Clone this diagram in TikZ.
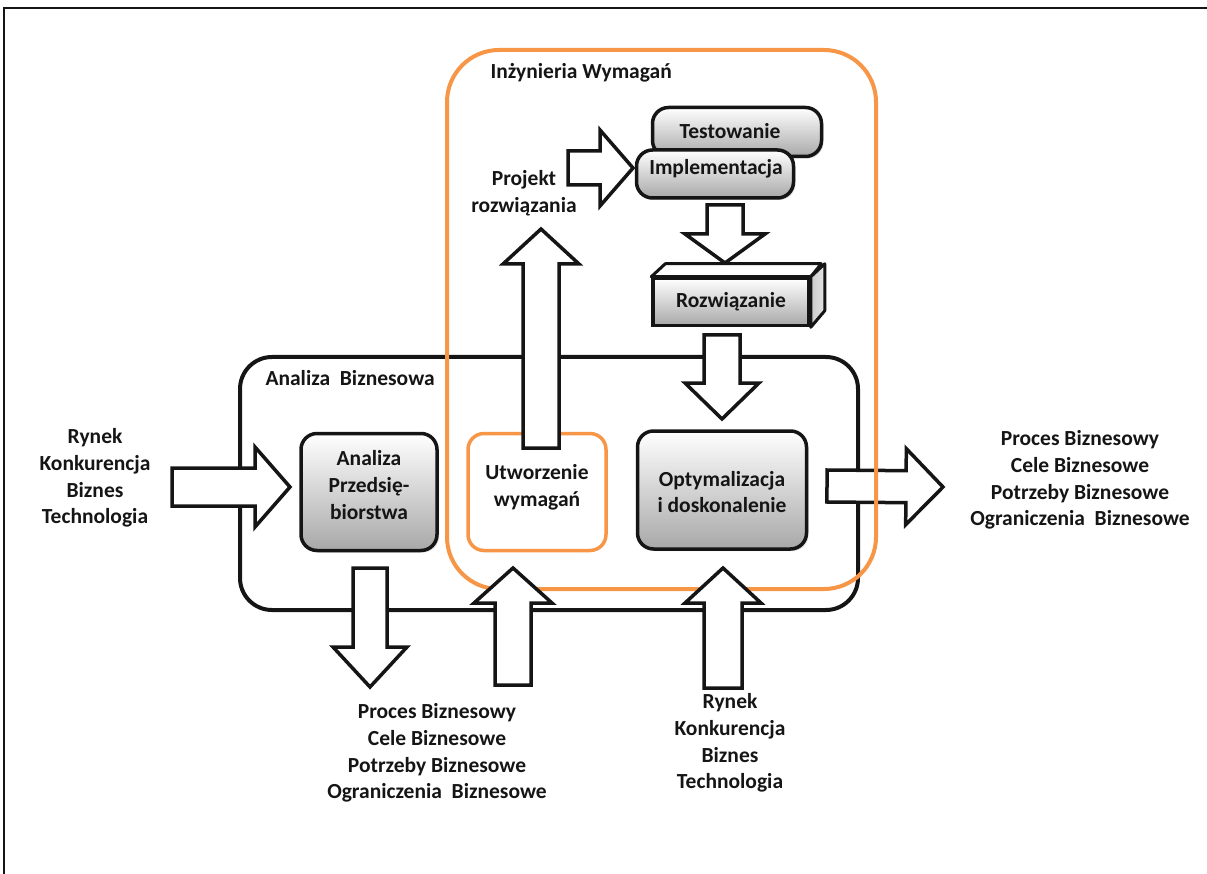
\documentclass[tikz,border=0pt]{standalone}
\usepackage{fontspec}
\setmainfont{Carlito}
\usetikzlibrary{calc,shadows}
\definecolor{ink}{HTML}{151515}
\definecolor{orng}{HTML}{F79646}
\definecolor{shade}{HTML}{A8A8A8}

% fat outline arrow from #1 to #2: shaft half width, head half width, head length
\newcommand{\BlockArrow}[5]{%
  \draw[blockarrow] let \p1=(#1), \p2=(#2),
      \n1={atan2(\y2-\y1,\x2-\x1)}, \n2={veclen(\x2-\x1,\y2-\y1)} in
    [shift={(\p1)}, rotate=\n1]
    (0,#3) -- (\n2-#5,#3) -- (\n2-#5,#4) -- (\n2,0) -- (\n2-#5,-#4) -- (\n2-#5,-#3) -- (0,-#3) -- cycle;}

\begin{document}
\begin{tikzpicture}[
    x=1pt, y=-1pt,
    font=\fontsize{21.5}{26.7}\selectfont\bfseries, text=ink,
    frame/.style={draw=ink, line width=2.5pt},
    area/.style={draw=ink, line width=4pt, rounded corners=32pt},
    reqarea/.style={draw=orng, line width=4pt, rounded corners=52pt},
    proc/.style={draw=ink, line width=3.5pt, rounded corners=16pt, top color=white, bottom color=shade, align=center, inner sep=0pt, drop shadow={opacity=0.25, shadow xshift=2pt, shadow yshift=-2pt}},
    reqbox/.style={draw=orng, line width=3.5pt, rounded corners=16pt, fill=white, align=center, inner sep=0pt},
    solbox/.style={draw=ink, line width=3.5pt, top color=white, bottom color=shade, inner sep=0pt},
    blockarrow/.style={draw=ink, line width=3.5pt, fill=white, line join=miter},
    tag/.style={align=center},
  ]
\useasboundingbox (0,0) rectangle (1207,874);

% --- Page frame ---------------------------------------------------------------
\draw[frame] (4,874) -- (4,8) -- (1207,8);

% --- Business analysis area ---------------------------------------------------
\draw[area] (240,357) rectangle (858,610);
\node[anchor=west] (ba) at (262,378) {Analiza\ \ Biznesowa};

% --- Outputs to the right (under the orange line) -----------------------------
\coordinate (outTail) at (827,486);
\coordinate (outTip) at (943,487);
\BlockArrow{outTail}{outTip}{16}{38}{37}

% --- Requirements engineering area --------------------------------------------
\draw[reqarea] (447,50) rectangle (876,589);
\node[anchor=west] (re) at (487,73) {Inżynieria Wymagań};

% --- Process boxes ------------------------------------------------------------
\node[proc, minimum width=136, minimum height=117] (ap) at (369,492) {};
\node[tag] (aptext) at (369,485) {Analiza\\Przedsię-\\biorstwa};
\node[reqbox, minimum width=138, minimum height=117] (uw) at (537,492) {};
\node[tag] (uwtext) at (537,487) {Utworzenie\\wymagań};
\node[proc, minimum width=169, minimum height=118] (opt) at (722,490) {};
\node[tag] (opttext) at (722,492) {Optymalizacja\\i doskonalenie};

\node[proc, minimum width=169, minimum height=49] (test) at (737,132) {};
\node[tag] (testtext) at (730,131) {Testowanie};
\node[proc, minimum width=157, minimum height=48] (impl) at (715,174) {};
\node[tag] (impltext) at (716,169) {Implementacja};

% --- The solution block, drawn as a box -----------------------------------------
\node[solbox, minimum width=156, minimum height=47] (rozw) at (731,302) {Rozwiązanie};
\draw[draw=ink, line width=3pt, line join=round, fill=white] (rozw.north west) -- ++(14,-13) -- ++(156,0) -- (rozw.north east) -- cycle;
\draw[draw=ink, line width=3pt, line join=round, left color=shade!60, right color=shade!30] (rozw.north east) -- ++(14,-13) -- ++(0,47) -- (rozw.south east) -- cycle;

% --- Outside texts ------------------------------------------------------------
\node[tag] (inL) at (95,478) {Rynek\\Konkurencja\\Biznes\\Technologia};
\node[tag] (outR) at (1080,480) {Proces Biznesowy\\Cele Biznesowe\\Potrzeby Biznesowe\\Ograniczenia\ \ Biznesowe};
\node[tag] (outB) at (437,753) {Proces Biznesowy\\Cele Biznesowe\\Potrzeby Biznesowe\\Ograniczenia\ \ Biznesowe};
\node[tag] (inB) at (730,743) {Rynek\\Konkurencja\\Biznes\\Technologia};
\node[tag] (proj) at (524,193) {Projekt\\rozwiązania};

% --- Block arrows ---------------------------------------------------------------
\coordinate (inTail) at (172,487);
\coordinate (inTip) at (290,487);
\BlockArrow{inTail}{inTip}{19}{40}{35}

\coordinate (apTail) at (370,568);
\coordinate (apTip) at (370,687);
\BlockArrow{apTail}{apTip}{17}{37}{40}

\coordinate (uwTail) at (513,685);
\coordinate (uwTip) at (513,568);
\BlockArrow{uwTail}{uwTip}{18}{39}{35}

\coordinate (optTail) at (723,688);
\coordinate (optTip) at (723,568);
\BlockArrow{optTail}{optTip}{19}{38}{35}

\coordinate (projTail) at (541,448);
\coordinate (projTip) at (541,229);
\BlockArrow{projTail}{projTip}{18}{38}{35}

\coordinate (implTail) at (568,168);
\coordinate (implTip) at (633,168);
\BlockArrow{implTail}{implTip}{17}{38}{33}

\coordinate (rozwTail) at (725,205);
\coordinate (rozwTip) at (725,263);
\BlockArrow{rozwTail}{rozwTip}{18}{40}{29}

\coordinate (optInTail) at (722,335);
\coordinate (optInTip) at (722,419);
\BlockArrow{optInTail}{optInTip}{18}{37}{36}

\end{tikzpicture}
\end{document}
